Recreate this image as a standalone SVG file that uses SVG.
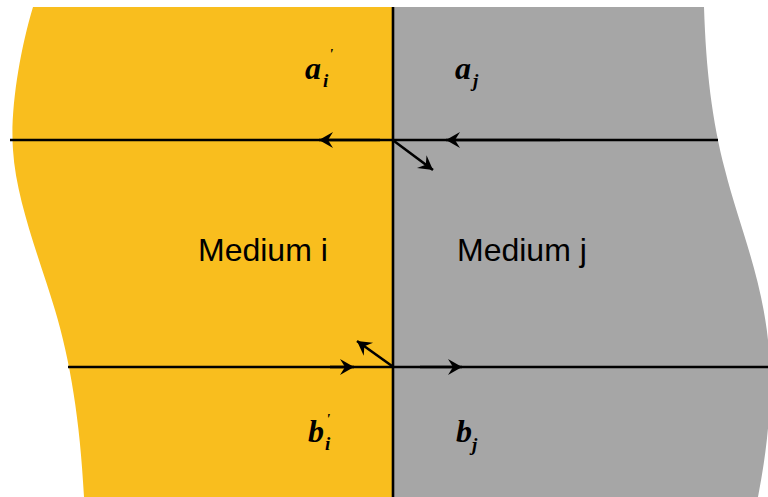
<svg xmlns="http://www.w3.org/2000/svg" width="768" height="497" viewBox="0 0 768 497">
<style>
.ln{stroke:#000;stroke-width:2.6;fill:none}
.lbl{font-family:"Liberation Serif","Times New Roman",serif;font-style:italic;font-weight:bold;fill:#000}
.med{font-family:"Liberation Sans",Arial,sans-serif;font-size:32px;fill:#000}
</style>
<defs>
<marker id="ah" markerUnits="userSpaceOnUse" viewBox="-16 -9 18 18" refX="0" refY="0" markerWidth="18" markerHeight="18" orient="auto">
<path d="M0,0 L-14,-8 L-9,0 L-14,8 Z" fill="#000"/>
</marker>
</defs>
<rect width="768" height="497" fill="#fff"/>
<g id="medium-i">
<path d="M33,7 C20,50 10,110 13,150 C16,200 40,260 55,310 C70,360 80,420 84,497 L393,497 L393,7 Z" fill="#F9BE1E"/>
<text class="med" x="198" y="261">Medium i</text>
</g>
<g id="medium-j">
<path d="M393,7 L704,7 C706,70 712,120 725,170 C740,230 768,290 770,370 C771,420 765,460 758,497 L393,497 Z" fill="#A6A6A6"/>
<text class="med" x="457" y="261">Medium j</text>
</g>
<g id="labels">
<text class="lbl" x="305" y="79" font-size="32">a</text>
<text class="lbl" x="323" y="87" font-size="19">i</text>
<text class="lbl" x="329" y="59" font-size="15">'</text>
<text class="lbl" x="455" y="79" font-size="32">a</text>
<text class="lbl" x="473" y="87" font-size="19">j</text>
<text class="lbl" x="308" y="442" font-size="32">b</text>
<text class="lbl" x="325" y="450" font-size="19">i</text>
<text class="lbl" x="326" y="424" font-size="15">'</text>
<text class="lbl" x="456" y="442" font-size="32">b</text>
<text class="lbl" x="472" y="451" font-size="19">j</text>
</g>
<g id="connectors">
<line class="ln" x1="393" y1="7" x2="393" y2="497"/>
<line class="ln" x1="10" y1="140" x2="718" y2="140"/>
<line class="ln" x1="68" y1="367" x2="768" y2="367"/>
<path class="ln" d="M380,140 H319" marker-end="url(#ah)"/>
<path class="ln" d="M560,140 H446" marker-end="url(#ah)"/>
<path class="ln" d="M330,367 H354" marker-end="url(#ah)"/>
<path class="ln" d="M420,367 H462" marker-end="url(#ah)"/>
<path class="ln" d="M394,141 L433,170" marker-end="url(#ah)"/>
<path class="ln" d="M392,366 L357,341" marker-end="url(#ah)"/>
</g>
</svg>
